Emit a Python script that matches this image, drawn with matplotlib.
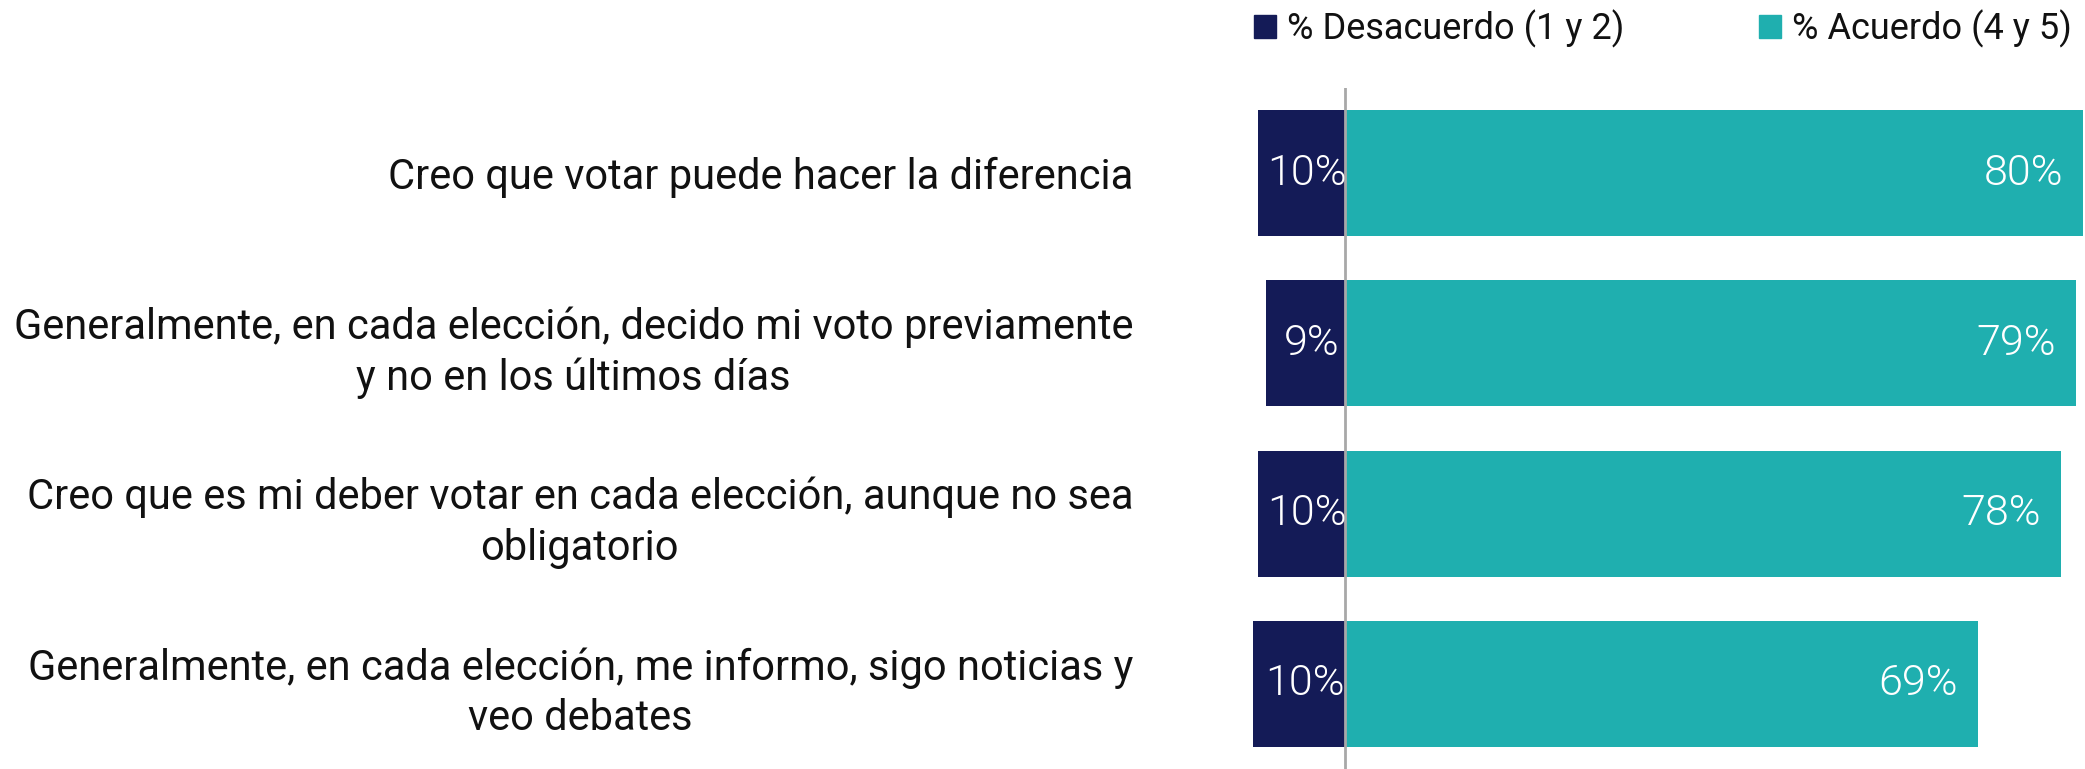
import matplotlib
matplotlib.use("Agg")
import matplotlib.pyplot as plt
from matplotlib.patches import Patch

plt.rcParams['font.family'] = ['Roboto', 'DejaVu Sans']

categories = [
    "Creo que votar puede hacer la diferencia",
    "Generalmente, en cada elección, decido mi voto previamente\ny no en los últimos días",
    "Creo que es mi deber votar en cada elección, aunque no sea\nobligatorio",
    "Generalmente, en cada elección, me informo, sigo noticias y\nveo debates",
]
desacuerdo = [9.5, 8.6, 9.5, 10.0]
acuerdo = [80.0, 79.2, 77.6, 68.6]
series_names = ["% Desacuerdo (1 y 2)", "% Acuerdo (4 y 5)"]

NAVY = "#141B57"
TEAL = "#1FAFAF"
GRAY = "#A8A8A8"

W, H = 2085, 769
fig = plt.figure(figsize=(W / 100, H / 100), dpi=100)
ax = fig.add_axes([1240 / W, 0, 845 / W, (H - 88) / H])

y = list(range(len(categories)))
ax.barh(y, [-v for v in desacuerdo], height=0.74, color=NAVY)
ax.barh(y, acuerdo, height=0.74, color=TEAL)
ax.axvline(0, color=GRAY, lw=2, zorder=3)

ax.set_xlim(-11.4, 80.2)
ax.set_ylim(3.5, -0.5)

for i, v in enumerate(desacuerdo):
    ax.annotate(f"{v:.0f}%", xy=(-v / 2, i), xytext=(6, 0), textcoords="offset pixels",
                ha="center", va="center", color="white", fontsize=31, fontweight=300,
                zorder=4)
for i, v in enumerate(acuerdo):
    ax.annotate(f"{v:.0f}%", xy=(v, i), xytext=(-20, 0), textcoords="offset pixels",
                ha="right", va="center", color="white", fontsize=31, fontweight=300,
                zorder=4)

ax.set_yticks(y)
ax.set_yticklabels(categories, fontsize=30, color="#111111", multialignment="center",
                   linespacing=1.3)
ax.tick_params(axis="y", length=0, pad=77)
ax.tick_params(axis="x", bottom=False, labelbottom=False)
for s in ax.spines.values():
    s.set_visible(False)

handles = [Patch(color=NAVY), Patch(color=TEAL)]
fig.legend(handles, series_names, loc="upper right", bbox_to_anchor=(1.004, 1.016),
           ncol=2, frameon=False, fontsize=26, handlelength=0.6, handleheight=0.6,
           handletextpad=0.3, columnspacing=3.75, borderaxespad=0.2, labelcolor="#111111")

fig.savefig("out.png", dpi=100)
